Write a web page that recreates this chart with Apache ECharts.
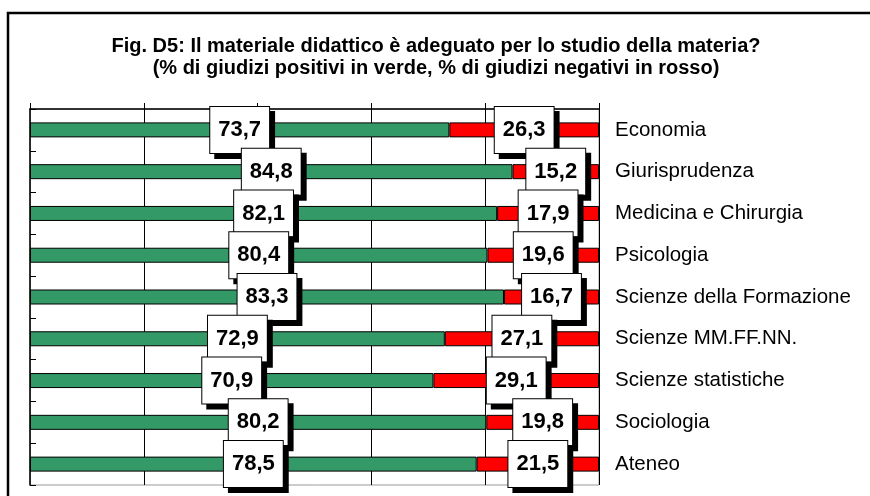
<!DOCTYPE html>
<html>
<head>
<meta charset="utf-8">
<script src="https://cdn.jsdelivr.net/npm/echarts@6/dist/echarts.min.js"></script>
<style>
    html, body { margin: 0; padding: 0; background: #fff; }
    #chart { width: 870px; height: 496px; }
</style>
</head>
<body>
<div id="chart"></div>
<script>
    // facoltà
    var categories = ['Economia', 'Giurisprudenza', 'Medicina e Chirurgia', 'Psicologia',
        'Scienze della Formazione', 'Scienze MM.FF.NN.', 'Scienze statistiche', 'Sociologia', 'Ateneo'];
    // % giudizi positivi (verde)
    var positivi = [73.7, 84.8, 82.1, 80.4, 83.3, 72.9, 70.9, 80.2, 78.5];
    // % giudizi negativi (rosso)
    var negativi = [26.3, 15.2, 17.9, 19.6, 16.7, 27.1, 29.1, 19.8, 21.5];

    var chart = echarts.init(document.getElementById('chart'));

    var labelBox = {
        show: true,
        position: 'inside',
        fontFamily: 'Liberation Sans, Arial, sans-serif',
        fontSize: 22,
        fontWeight: 'bold',
        color: '#000',
        lineHeight: 24,
        backgroundColor: '#fff',
        borderColor: '#000',
        borderWidth: 1,
        padding: [11, 8],
        shadowColor: '#000',
        shadowBlur: 0,
        shadowOffsetX: 5,
        shadowOffsetY: 5,
        formatter: function (p) {
            return p.value.toFixed(1).replace('.', ',');
        }
    };

    var option = {
        animation: false,
        title: {
            text: 'Fig. D5: Il materiale didattico è adeguato per lo studio della materia?\n(% di giudizi positivi in verde, % di giudizi negativi in rosso)',
            left: 431,
            top: 30,
            textAlign: 'center',
            textStyle: {
                fontFamily: 'Liberation Sans, Arial, sans-serif',
                fontSize: 20,
                fontWeight: 'bold',
                color: '#000',
                lineHeight: 22
            }
        },
        graphic: [{
            type: 'rect',
            shape: { x: 8, y: 13, width: 900, height: 520 },
            style: { fill: 'none', stroke: '#000', lineWidth: 2.5 },
            silent: true
        }],
        grid: {
            left: 30,
            right: 271,
            top: 109,
            bottom: 11,
            show: true,
            borderColor: '#999',
            borderWidth: 1
        },
        xAxis: {
            type: 'value',
            position: 'top',
            min: 0,
            max: 100,
            interval: 20,
            axisLine: { show: true, lineStyle: { color: '#000', width: 1.5 } },
            axisTick: { show: true, length: 6, lineStyle: { color: '#000' } },
            axisLabel: { show: false },
            splitLine: {
                show: true,
                lineStyle: { color: ['#999', '#000', '#000', '#000', '#000', '#000'], width: 1 }
            }
        },
        yAxis: {
            type: 'category',
            position: 'right',
            inverse: true,
            data: categories,
            axisLine: { show: true, lineStyle: { color: '#000', width: 1.5 } },
            axisTick: { show: true, length: 6, lineStyle: { color: '#000' } },
            axisLabel: {
                margin: 16,
                color: '#000',
                fontFamily: 'Liberation Sans, Arial, sans-serif',
                fontSize: 20.5
            }
        },
        series: [{
            name: 'positivi',
            type: 'bar',
            stack: 'tot',
            barWidth: 15,
            itemStyle: { color: '#339966', borderColor: '#000', borderWidth: 1 },
            label: labelBox,
            data: positivi
        }, {
            name: 'negativi',
            type: 'bar',
            stack: 'tot',
            barWidth: 15,
            itemStyle: { color: '#ff0000', borderColor: '#000', borderWidth: 1 },
            label: labelBox,
            data: negativi
        }]
    };
    chart.setOption(option);
</script>
</body>
</html>
